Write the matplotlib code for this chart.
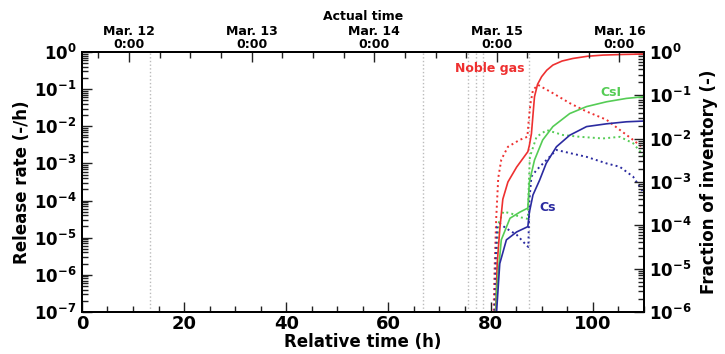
import numpy as np
import matplotlib
matplotlib.use("Agg")
import matplotlib.pyplot as plt
from matplotlib.ticker import LogLocator, FixedLocator, MultipleLocator, NullFormatter

plt.rcParams['font.family'] = ['DejaVu Sans']
plt.rcParams['font.weight'] = 'bold'

# ---- data ----
# cumulative fraction of inventory (right axis, solid)
ng_frac_t = [80.9, 81.0, 81.3, 81.8, 82.4, 83.4, 85.1, 87.3, 87.6, 88.0, 88.6, 89.2, 90.0, 91.0, 92.2, 94.0, 96.1, 99.0, 102.0, 106.0, 110.0]
ng_frac = [1e-7, 1e-6, 1.3e-5, 8e-5, 4e-4, 1e-3, 2.2e-3, 5e-3, 7e-3, 1.3e-2, 9.3e-2, 0.18, 0.27, 0.38, 0.50, 0.62, 0.71, 0.80, 0.85, 0.88, 0.90]

csi_frac_t = [80.9, 81.0, 81.2, 82.1, 83.8, 85.7, 87.3, 87.6, 88.6, 90.2, 92.2, 95.5, 98.8, 102.7, 106.6, 110.0]
csi_frac = [1e-7, 6e-7, 3.2e-6, 4.6e-5, 1.45e-4, 2.0e-4, 2.5e-4, 1e-3, 3.2e-3, 9.3e-3, 1.9e-2, 3.8e-2, 5.5e-2, 7.1e-2, 8.5e-2, 9.3e-2]

cs_frac_t = [80.9, 81.0, 81.2, 81.8, 83.1, 85.1, 87.3, 87.6, 88.3, 89.6, 90.9, 92.9, 95.5, 98.8, 102.7, 106.6, 110.0]
cs_frac = [1e-7, 3e-7, 1.1e-6, 1.3e-5, 4.6e-5, 7e-5, 9.3e-5, 2e-4, 5e-4, 1.1e-3, 2.7e-3, 6.5e-3, 1.2e-2, 1.9e-2, 2.2e-2, 2.45e-2, 2.55e-2]

# release rate (left axis, dotted)
ng_rate_t = [80.5, 80.8, 81.1, 81.5, 82.1, 83.4, 85.7, 87.2, 87.5, 87.8, 88.3, 89.3, 92.2, 95.5, 98.8, 102.7, 105.3, 107.9, 110.0]
ng_rate = [3e-8, 1.6e-6, 3.2e-5, 4e-4, 1.26e-3, 2.8e-3, 4.3e-3, 5.2e-3, 1.6e-2, 4e-2, 9.5e-2, 1.3e-1, 7.8e-2, 4.2e-2, 2.5e-2, 1.5e-2, 8e-3, 4.3e-3, 2.5e-3]

csi_rate_t = [80.8, 81.2, 81.6, 82.5, 84.0, 86.0, 87.3, 87.5, 87.7, 89.0, 91.0, 94.2, 97.5, 102.0, 105.3, 107.9, 110.0]
csi_rate = [3e-8, 3.2e-6, 2.5e-5, 5e-5, 4.5e-5, 3.5e-5, 3.2e-5, 3.2e-4, 1.5e-3, 5.2e-3, 7.9e-3, 5.8e-3, 5.2e-3, 4.7e-3, 5.2e-3, 3.5e-3, 1.6e-3]

cs_rate_t = [80.7, 81.0, 81.3, 81.8, 83.0, 85.1, 87.0, 87.4, 87.6, 88.0, 89.0, 91.0, 92.9, 95.5, 98.8, 102.7, 105.3, 107.9, 110.0]
cs_rate = [3e-8, 2.5e-6, 2e-5, 2.4e-5, 1.8e-5, 1.2e-5, 6.3e-6, 5.6e-6, 1e-4, 4.4e-4, 6.6e-4, 1.26e-3, 2.3e-3, 1.9e-3, 1.5e-3, 1e-3, 8.1e-4, 4.4e-4, 1.6e-4]

# event markers (h) and actual-time axis
events = [13.4, 66.7, 75.6, 77.2, 78.6, 87.6]
date_pos = [9.23, 33.23, 57.23, 81.23, 105.23]
date_labels = ['Mar. 12\n0:00', 'Mar. 13\n0:00', 'Mar. 14\n0:00', 'Mar. 15\n0:00', 'Mar. 16\n0:00']

red = '#ee3030'
green = '#55cc55'
blue = '#2b2ba0'

fig = plt.figure(figsize=(7.25, 3.54), dpi=100)
ax = fig.add_axes([0.113, 0.119, 0.775, 0.734])
ax2 = ax.twinx()
ax3 = ax.twiny()

for e in events:
    ax.axvline(e, color='#bbbbbb', ls=':', lw=1.0)

ax.plot(ng_rate_t, ng_rate, ':', color=red, lw=1.4)
ax.plot(csi_rate_t, csi_rate, ':', color=green, lw=1.4)
ax.plot(cs_rate_t, cs_rate, ':', color=blue, lw=1.4)

ax2.plot(ng_frac_t, ng_frac, '-', color=red, lw=1.2)
ax2.plot(csi_frac_t, csi_frac, '-', color=green, lw=1.2)
ax2.plot(cs_frac_t, cs_frac, '-', color=blue, lw=1.2)

ax.set_xlim(0, 110)
ax.set_yscale('log')
ax.set_ylim(1e-7, 1e0)
ax2.set_yscale('log')
ax2.set_ylim(1e-6, 1e0)
ax3.set_xlim(0, 110)

def sci(v):
    return r'$\mathbf{10^{%d}}$' % int(round(np.log10(v)))

ax.set_yticks([10.0**k for k in range(-7, 1)])
ax.set_yticklabels([sci(10.0**k) for k in range(-7, 1)], fontsize=12)
ax2.set_yticks([10.0**k for k in range(-6, 1)])
ax2.set_yticklabels([sci(10.0**k) for k in range(-6, 1)], fontsize=12)
for a in (ax, ax2):
    a.yaxis.set_minor_locator(LogLocator(base=10, subs=np.arange(2, 10), numticks=20))
    a.yaxis.set_minor_formatter(NullFormatter())

ax.xaxis.set_major_locator(MultipleLocator(20))
ax.xaxis.set_minor_locator(MultipleLocator(5))
ax.tick_params(axis='x', labelsize=13, pad=2)
for lab in ax.get_xticklabels():
    lab.set_fontweight('bold')

ax3.set_xticks(date_pos)
ax3.set_xticklabels(date_labels, fontsize=9, fontweight='bold', linespacing=0.95)
ax3.xaxis.set_minor_locator(FixedLocator([date_pos[0] - 6 + 6 * i for i in range(18)]))
ax3.tick_params(axis='x', pad=1)

for a in (ax, ax2, ax3):
    a.tick_params(which='both', direction='in', width=1.0, color='#222222')
    a.tick_params(which='major', length=7)
    a.tick_params(which='minor', length=4)
    for s in a.spines.values():
        s.set_linewidth(1.2)
ax.tick_params(axis='y', pad=4)
ax2.tick_params(axis='y', pad=4)

ax.set_xlabel('Relative time (h)', fontsize=12, fontweight='bold', labelpad=0)
ax.set_ylabel('Release rate (-/h)', fontsize=12, fontweight='bold', labelpad=2)
ax2.set_ylabel('Fraction of inventory (-)', fontsize=12, fontweight='bold', labelpad=6)
ax3.set_xlabel('Actual time', fontsize=9, fontweight='bold', labelpad=4)

ax.text(79.8, 0.37, 'Noble gas', color=red, fontsize=9, fontweight='bold', ha='center', va='center')
ax.text(103.5, 0.083, 'CsI', color=green, fontsize=9, fontweight='bold', ha='center', va='center')
ax.text(91.2, 6.3e-5, 'Cs', color=blue, fontsize=9, fontweight='bold', ha='center', va='center')

fig.savefig('out.png', dpi=100)
